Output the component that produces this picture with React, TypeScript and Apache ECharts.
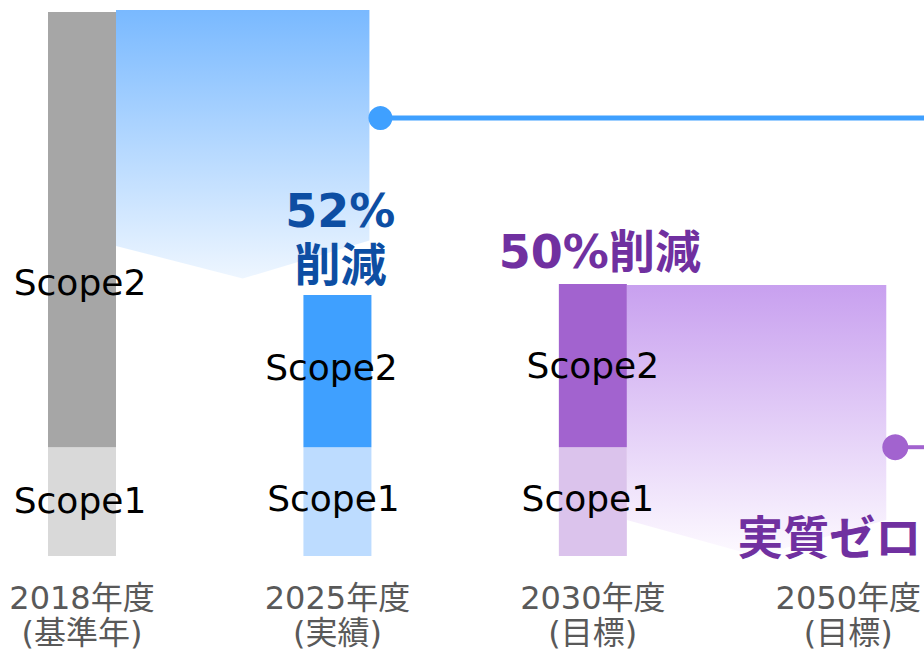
import React, { useEffect, useRef } from 'react';
import * as echarts from 'echarts';

const categories = ['2018年度\n(基準年)', '2025年度\n(実績)', '2030年度\n(目標)', '2050年度\n(目標)'];
const scope1 = [20, 20, 20, 0];
const scope2 = [80, 28, 30, 0];
const scope1Colors = ['#d9d9d9', '#bddcff', '#dbc3ec', '#dbc3ec'];
const scope2Colors = ['#a6a6a6', '#3fa0ff', '#a263cf', '#a263cf'];
const reductionTexts = ['52%', '削減', '50%削減', '実質ゼロ'];
// decoration levels (value units)
const blueChevron = [57, 51, 58]; // left edge, apex, right edge
const purpleChevron = [6.6, 0, 6.6];
const blueLineLevel = 80.5;
const purpleLineLevel = 20;
// label nudges (px) per bar
const scope1LabelOffsets = [[-2, -1], [-4, -3], [-5, -3], [0, 0]];
const scope2LabelOffsets = [[-2, 53], [-6, -4], [0, 0], [0, 0]];

const LATIN = '"DejaVu Sans", "Noto Sans CJK JP", sans-serif';

export default function App() {
  const ref = useRef<HTMLDivElement>(null);
  useEffect(() => {
    if (!ref.current) return;
    const chart = echarts.init(ref.current, null, { renderer: 'svg' });
    const half = 34;
    const labelBase = {
      show: true,
      position: 'inside',
      color: '#000',
      fontSize: 36,
      fontFamily: LATIN,
      textBorderWidth: 0,
    };
    const option: any = {
      animation: false,
      grid: { left: 82, right: 73, top: 12, bottom: 95, containLabel: false },
      xAxis: {
        type: 'category',
        data: categories,
        boundaryGap: false,
        axisLine: { show: false },
        axisTick: { show: false },
        splitLine: { show: false },
        axisLabel: {
          interval: 0,
          fontSize: 32,
          lineHeight: 35,
          color: '#595959',
          margin: 24,
          fontFamily: LATIN,
        },
      },
      yAxis: { type: 'value', min: 0, max: 100, show: false },
      series: [
        {
          type: 'custom',
          z: 1,
          silent: true,
          clip: false,
          data: [[0, 0]],
          renderItem: (params: any, api: any) => {
            const W = api.getWidth();
            const c = (i: number, v: number) => api.coord([i, v]);
            const top0 = c(0, scope1[0] + scope2[0]);
            const p1 = c(1, scope1[1] + scope2[1]);
            const p2 = c(2, scope1[2] + scope2[2]);
            const p3 = c(3, 0);
            const bl = top0[0] + half;
            const br = p1[0] + 32;
            const pl = p2[0] + half;
            const pr = p3[0] + 38;
            const bluePoly = [
              [bl, top0[1] - 2],
              [br, top0[1] - 2],
              [br, c(1, blueChevron[2])[1]],
              [(bl + br) / 2, c(1, blueChevron[1])[1]],
              [bl, c(1, blueChevron[0])[1]],
            ];
            const purplePoly = [
              [pl, p2[1] + 1],
              [pr, p2[1] + 1],
              [pr, c(3, purpleChevron[2])[1]],
              [(pl + pr) / 2, c(3, purpleChevron[1])[1]],
              [pl, c(3, purpleChevron[0])[1]],
            ];
            const blueY = c(1, blueLineLevel)[1];
            const purpleY = c(3, purpleLineLevel)[1];
            const bcx = br + 11;
            const pcx = pr + 7;
            const boldText = (text: string, x: number, y: number, fill: string, align = 'center') => ({
              type: 'text',
              style: {
                text,
                x,
                y,
                fill,
                align,
                verticalAlign: 'middle',
                fontSize: 46,
                fontWeight: 'bold',
                fontFamily: LATIN,
              },
            });
            return {
              type: 'group',
              children: [
                {
                  type: 'polygon',
                  shape: { points: bluePoly },
                  style: {
                    fill: new echarts.graphic.LinearGradient(0, 0, 0, 1, [
                      { offset: 0, color: '#79b9ff' },
                      { offset: 1, color: '#eef6ff' },
                    ]),
                  },
                },
                {
                  type: 'polygon',
                  shape: { points: purplePoly },
                  style: {
                    fill: new echarts.graphic.LinearGradient(0, 0, 0, 1, [
                      { offset: 0, color: '#c8a0ef' },
                      { offset: 1, color: '#fdfaff' },
                    ]),
                  },
                },
                { type: 'line', shape: { x1: bcx, y1: blueY, x2: W, y2: blueY }, style: { stroke: '#3fa0ff', lineWidth: 5 } },
                { type: 'circle', shape: { cx: bcx, cy: blueY, r: 12 }, style: { fill: '#3fa0ff' } },
                { type: 'line', shape: { x1: pcx, y1: purpleY, x2: W, y2: purpleY }, style: { stroke: '#a263cf', lineWidth: 4 } },
                { type: 'circle', shape: { cx: pcx + 2, cy: purpleY, r: 13 }, style: { fill: '#a263cf' } },
                boldText(reductionTexts[0], p1[0] + 3, p1[1] - 84, '#0d4ea3'),
                boldText(reductionTexts[1], p1[0] + 3, p1[1] - 30, '#0d4ea3'),
                boldText(reductionTexts[2], p2[0] + 7, p2[1] - 32, '#7030a0'),
                boldText(reductionTexts[3], p3[0] - 111, p3[1] - 18, '#7030a0', 'left'),
              ],
            };
          },
        },
        {
          type: 'bar',
          name: 'Scope1',
          stack: 'total',
          barWidth: 68,
          clip: false,
          z: 2,
          data: scope1.map((v, i) => ({
            value: v,
            itemStyle: { color: scope1Colors[i] },
            label: { offset: scope1LabelOffsets[i] },
          })),
          label: { ...labelBase, formatter: (p: any) => (p.value > 0 ? 'Scope1' : '') },
        },
        {
          type: 'bar',
          name: 'Scope2',
          stack: 'total',
          barWidth: 68,
          clip: false,
          z: 2,
          data: scope2.map((v, i) => ({
            value: v,
            itemStyle: { color: scope2Colors[i] },
            label: { offset: scope2LabelOffsets[i] },
          })),
          label: { ...labelBase, formatter: (p: any) => (p.value > 0 ? 'Scope2' : '') },
        },
      ],
    };
    chart.setOption(option);
    return () => chart.dispose();
  }, []);
  return <div ref={ref} style={{ position: 'fixed', left: 0, top: 0, width: 924, height: 651, background: '#fff' }} />;
}
